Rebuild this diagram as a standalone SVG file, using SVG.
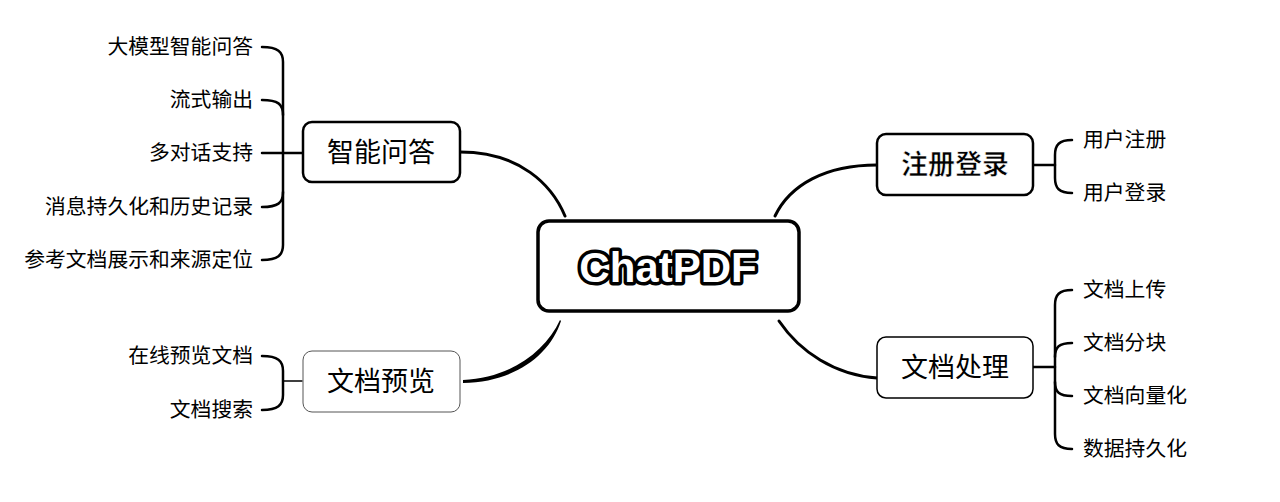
<svg xmlns="http://www.w3.org/2000/svg" width="1280" height="502" viewBox="0 0 1280 502">
<style>
.leaf{font-family:"Noto Sans CJK SC","Noto Sans",sans-serif;font-size:20.8px;fill:#000}
.lr{text-anchor:end}
.topic{font-family:"Noto Sans CJK SC","Noto Sans",sans-serif;font-size:27px;fill:#000;text-anchor:middle}
.br{fill:none;stroke:#000;stroke-width:2.5;stroke-linecap:round}
.conn{fill:none;stroke:#000;stroke-width:3;stroke-linecap:round}
</style>
<rect width="1280" height="502" fill="#fff"/>
<g id="connectors">
<path class="conn" d="M460,152 C520,152 552,185 565,216"/>
<path class="conn" d="M877,165 C825,165 790,185 775,216"/>
<path class="conn" d="M779,321 C800,352 835,375 877,378"/>
<path fill="#000" d="M463,380 C510,378 545,352 560,320 L561,321 C550,355 515,382 463,383 Z"/>
<path class="br" d="M262,47 C278,47 283,52 283,62 L283,245 C283,255 278,260 262,260"/>
<path class="br" d="M262,100 C278,100 283,104 283,115"/>
<path class="br" d="M262,207 C278,207 283,203 283,192"/>
<path class="br" d="M262,153 L302,153"/>
<path class="br" d="M262,356 C278,356 283,361 283,371 L283,395 C283,405 278,410 262,410"/>
<path class="br" d="M283,381 L302,381" style="stroke-width:1.5"/>
<path class="br" d="M1033,165 L1055,165"/>
<path class="br" d="M1072,140 C1059,140 1055,145 1055,155 L1055,178 C1055,188 1059,193 1072,193"/>
<path class="br" d="M1033,367 L1055,367"/>
<path class="br" d="M1072,290 C1059,290 1055,295 1055,305 L1055,434 C1055,444 1059,449 1072,449"/>
<path class="br" d="M1072,343 C1059,343 1055,347 1055,357"/>
<path class="br" d="M1072,396 C1059,396 1055,392 1055,382"/>
</g>
<g id="center">
<rect x="538" y="221" width="261" height="90" rx="11" fill="#fff" stroke="#000" stroke-width="3.5"/>
<text x="668" y="282" text-anchor="middle" font-family="Liberation Sans, Arial, sans-serif" font-weight="bold" font-size="42" fill="#fff" stroke="#000" stroke-width="7" stroke-linejoin="round" paint-order="stroke">ChatPDF</text>
</g>
<g id="zhinengwenda">
<rect x="303" y="122" width="157" height="60" rx="9" fill="#fff" stroke="#000" stroke-width="2.5"/>
<text class="topic" x="381" y="162">智能问答</text>
</g>
<g id="wendangyulan">
<rect x="303" y="351" width="157" height="61" rx="9" fill="#fff" stroke="#555" stroke-width="1"/>
<text class="topic" x="381" y="391">文档预览</text>
</g>
<g id="zhucedenglu">
<rect x="877" y="134" width="156" height="61" rx="9" fill="#fff" stroke="#000" stroke-width="2.5"/>
<text class="topic" x="955" y="174" font-weight="bold" stroke="#fff" stroke-width="0.6">注册登录</text>
</g>
<g id="wendangchuli">
<rect x="877" y="337" width="156" height="61" rx="9" fill="#fff" stroke="#000" stroke-width="1.5"/>
<text class="topic" x="955" y="377">文档处理</text>
</g>
<g id="leaves-left">
<text class="leaf lr" x="253" y="54">大模型智能问答</text>
<text class="leaf lr" x="253" y="107">流式输出</text>
<text class="leaf lr" x="253" y="160">多对话支持</text>
<text class="leaf lr" x="253" y="214">消息持久化和历史记录</text>
<text class="leaf lr" x="253" y="267">参考文档展示和来源定位</text>
<text class="leaf lr" x="253" y="363">在线预览文档</text>
<text class="leaf lr" x="253" y="417">文档搜索</text>
</g>
<g id="leaves-right">
<text class="leaf" x="1083" y="147">用户注册</text>
<text class="leaf" x="1083" y="200">用户登录</text>
<text class="leaf" x="1083" y="297">文档上传</text>
<text class="leaf" x="1083" y="350">文档分块</text>
<text class="leaf" x="1083" y="403">文档向量化</text>
<text class="leaf" x="1083" y="456">数据持久化</text>
</g>
</svg>
